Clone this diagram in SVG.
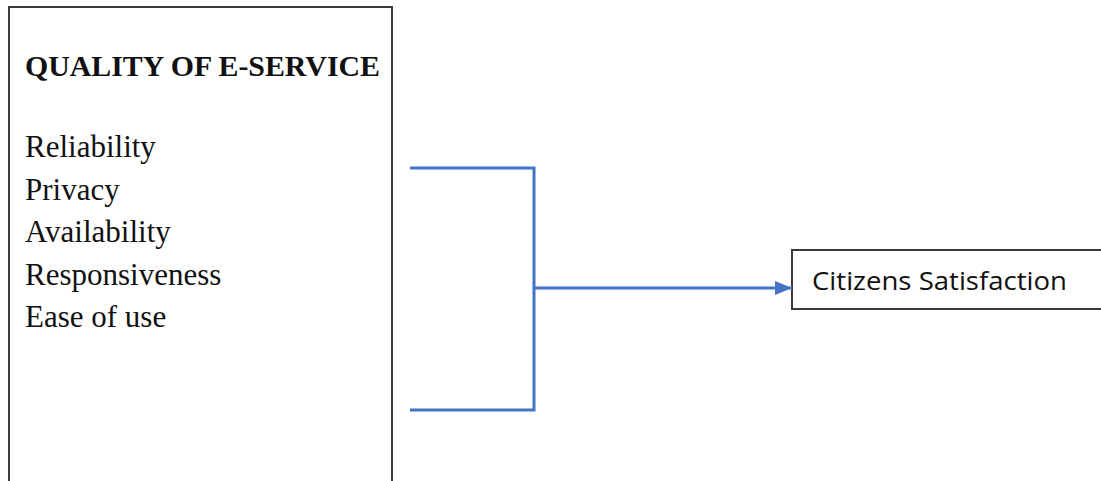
<svg xmlns="http://www.w3.org/2000/svg" width="1101" height="481" viewBox="0 0 1101 481">
  <style>
    .box { fill: #ffffff; stroke: #3a3a3a; stroke-width: 2; }
    .title { font-family: "Liberation Serif", "Times New Roman", serif; font-weight: bold; font-size: 29px; fill: #111111; }
    .item { font-family: "Liberation Serif", "Times New Roman", serif; font-size: 31px; fill: #111111; }
    .label { font-family: "Open Sans", "Liberation Sans", sans-serif; font-size: 26px; fill: #111111; }
    .link { fill: none; stroke: #4472c4; stroke-width: 3; }
  </style>
  <defs>
    <marker id="arrow" markerUnits="userSpaceOnUse" markerWidth="18" markerHeight="16" refX="17" refY="8" orient="auto">
      <path d="M0,1 L17,8 L0,15 Z" fill="#4472c4"/>
    </marker>
  </defs>
  <rect width="1101" height="481" fill="#ffffff"/>

  <!-- Quality of e-service dimensions -->
  <g id="quality">
    <path class="box" d="M9,490 L9,7 L392,7 L392,490"/>
    <text class="title" x="25" y="76" textLength="355" lengthAdjust="spacingAndGlyphs">QUALITY OF E-SERVICE</text>
    <text class="item" x="25" y="157">Reliability</text>
    <text class="item" x="25" y="199.5">Privacy</text>
    <text class="item" x="25" y="242">Availability</text>
    <text class="item" x="25" y="284.5">Responsiveness</text>
    <text class="item" x="25" y="327">Ease of use</text>
  </g>

  <!-- Outcome -->
  <g id="satisfaction">
    <rect class="box" x="792" y="250" width="330" height="59"/>
    <text class="label" x="812" y="290" textLength="255" lengthAdjust="spacingAndGlyphs">Citizens Satisfaction</text>
  </g>

  <!-- Connectors -->
  <g id="connectors">
    <path class="link" d="M410,168 L534,168 L534,410 L410,410"/>
    <path class="link" d="M534,288 L792,288" marker-end="url(#arrow)"/>
  </g>
</svg>
